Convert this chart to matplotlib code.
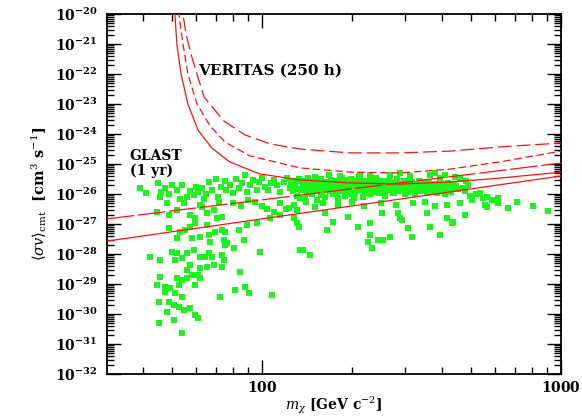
import matplotlib
matplotlib.use("Agg")
import numpy as np
import matplotlib.pyplot as plt
from matplotlib.ticker import FixedLocator, NullFormatter, FixedFormatter

plt.rcParams['mathtext.fontset'] = 'dejavuserif'

# ---------------- data (mass in GeV, log10 <sigma v> in cm^3 s^-1) ----------------
# VERITAS (250 h) sensitivity curves
ver_solid_m = [50.6, 51.1, 51.9, 53.6, 56.5, 61.1, 68.0, 78.0, 98.0, 134, 197, 289, 425, 625, 1000]
ver_solid_e = [-19.5, -20.0, -21.0, -22.0, -23.0, -23.87, -24.47, -24.93, -25.33, -25.53, -25.63, -25.67, -25.6, -25.47, -25.27]

ver_dash_m = [52.2, 52.7, 54.4, 56.5, 60.6, 67.0, 75.2, 91.1, 134, 197, 289, 425, 625, 1000]
ver_dash_e = [-19.5, -20.0, -21.0, -22.0, -23.0, -23.73, -24.27, -24.73, -25.13, -25.27, -25.3, -25.17, -24.93, -24.57]

ver_long_m = [53.8, 54.4, 55.7, 57.8, 64.0, 74.6, 87.7, 106.4, 134, 197, 289, 425, 625, 1000]
ver_long_e = [-19.5, -20.0, -20.67, -21.33, -22.77, -23.57, -24.03, -24.33, -24.5, -24.63, -24.63, -24.57, -24.43, -24.3]

# GLAST (1 yr) sensitivity lines
glast_m = [30.3, 1000]
glast_upper_e = [-26.83, -24.97]
glast_lower_e = [-27.57, -25.4]

# model points (mass, log10 sigma v)
left_band = [
    (39, -25.8), (41, -25.95), (45, -25.63), (46, -25.93), (47.5, -25.8), (49, -26.0), (50, -25.7),
    (52, -25.87), (53, -26.15), (54, -25.7), (56, -26.1), (57.5, -25.9), (59, -26.03), (60, -25.75),
    (61, -25.93), (63, -25.8), (64, -26.15), (65, -26.0), (66.5, -25.6), (68, -25.87), (70, -25.5),
    (71.5, -26.1), (73, -25.77), (75, -25.57), (76, -25.87), (78, -25.7), (80, -25.97), (82, -25.5),
    (84, -25.8), (86, -25.63), (88, -25.37), (89, -25.93), (91, -25.7), (93, -25.53), (96, -25.87),
    (98, -25.6), (100, -25.47), (102, -25.77), (105, -25.87), (107, -25.63), (110, -25.53),
    (112, -25.7), (115, -25.93), (118, -25.6), (121, -25.47), (124, -25.8),
    (55, -26.3), (62, -26.35), (72, -26.25), (80, -26.3), (90, -26.2), (85, -26.4), (45.6, -26.1),
]
dense_band = [
    (125, -25.6), (127, -25.9), (129, -25.75), (131, -26.05), (133, -25.5), (135, -25.85), (137, -25.65),
    (139, -26.15), (141, -25.95), (143, -25.45), (145, -25.75), (147, -26.0), (149, -25.6), (151, -25.85),
    (153, -26.2), (155, -25.7), (157, -25.5), (159, -25.95), (161, -25.8), (163, -26.1), (165, -25.6),
    (167, -25.35), (169, -25.9), (171, -25.7), (173, -26.0), (175, -25.55), (177, -25.8), (179, -26.15),
    (181, -25.65), (183, -25.9), (185, -25.45), (187, -25.75), (189, -26.05), (191, -25.6), (193, -25.85),
    (195, -25.7), (197, -26.0), (199, -25.5), (202, -25.8), (205, -25.95), (208, -25.65), (211, -25.4),
    (214, -25.85), (217, -26.1), (220, -25.7), (223, -25.55), (226, -25.9), (229, -25.75), (232, -26.0),
    (235, -25.6), (238, -25.85), (241, -25.45), (244, -25.7), (247, -25.95), (250, -25.8), (254, -25.55),
    (258, -26.05), (262, -25.7), (266, -25.85), (270, -25.6), (274, -25.95), (278, -25.75), (282, -25.5),
    (286, -25.9), (290, -25.65), (295, -25.8), (300, -26.0), (305, -25.7), (310, -25.55), (315, -25.85),
    (320, -25.75), (326, -26.0), (332, -25.65), (338, -25.9), (344, -25.8), (350, -25.6), (357, -25.95),
    (364, -25.75), (371, -25.85), (378, -25.65), (386, -25.95), (394, -25.8), (402, -25.7), (410, -26.0),
    (420, -25.85), (430, -25.75),
    (126, -25.78), (130, -25.58), (134, -26.12), (138, -25.82), (142, -25.68), (146, -25.92), (150, -25.42),
    (154, -25.78), (158, -26.02), (162, -25.62), (166, -25.88), (170, -25.52), (174, -25.78), (178, -25.98),
    (182, -25.72), (186, -25.62), (190, -25.92), (194, -25.52), (198, -25.78), (203, -26.12), (207, -25.72),
    (212, -25.58), (216, -25.82), (221, -25.98), (225, -25.68), (230, -25.48), (236, -25.78), (242, -25.92),
    (248, -25.62), (253, -25.78), (259, -25.88), (265, -25.58), (271, -25.78), (277, -25.98), (284, -25.68),
    (292, -25.88), (299, -25.58), (307, -25.92), (316, -25.68), (324, -25.82), (334, -25.58), (342, -25.72),
    (352, -25.88), (362, -25.62), (374, -25.92), (384, -25.72), (396, -25.62), (408, -25.82), (418, -25.62),
    (428, -25.92), (440, -25.68), (452, -25.82),
    (128, -25.68), (132, -25.82), (136, -25.55), (140, -25.72), (144, -25.88), (148, -25.66), (152, -25.6),
    (156, -25.9), (160, -25.68), (164, -25.78), (168, -25.62), (172, -25.86), (176, -25.66), (180, -25.84),
    (184, -25.58), (188, -25.68), (192, -25.76), (196, -25.88), (200, -25.64), (204, -25.56), (209, -25.84),
    (214, -25.7), (219, -25.6), (224, -25.82), (228, -25.62), (233, -25.88), (239, -25.7), (245, -25.58),
    (251, -25.7), (256, -25.88), (263, -25.64), (268, -25.72), (275, -25.84), (281, -25.66), (288, -25.76),
    (296, -25.7), (303, -25.84), (311, -25.66), (318, -25.6), (328, -25.78), (337, -25.7), (347, -25.66),
    (356, -25.76), (367, -25.7), (380, -25.8), (390, -25.7), (400, -25.9), (414, -25.72), (424, -25.66),
    (436, -25.82), (446, -25.74), (470, -25.8), (490, -25.7),
    (168, -25.37), (182, -25.4), (213, -25.37), (230, -25.35), (268, -25.37), (290, -25.3), (312, -25.4),
    (365, -25.37), (379, -25.3), (395, -25.45), (409, -25.37), (442, -25.43), (460, -25.5), (480, -25.55),
    (140, -26.25), (160, -26.3), (180, -26.35), (200, -26.25), (220, -26.4), (250, -26.3), (280, -26.35),
    (320, -26.3), (350, -26.25), (380, -26.4), (115, -26.3), (120, -26.5), (128, -26.35), (110, -26.6),
    (100, -26.4), (95, -26.25), (104, -26.5),
]
right_scatter = [
    (131, -26.53), (128, -26.8), (150, -26.43), (162, -26.63), (165, -27.2), (173, -26.93), (194, -26.77),
    (209, -27.1), (230, -26.97), (230, -27.37), (226, -27.6), (244, -27.53), (233, -27.8), (137, -27.87),
    (145, -28.03), (252, -26.63), (285, -26.63), (294, -26.87), (307, -27.13), (356, -26.63), (365, -27.1),
    (394, -27.37), (415, -26.8), (434, -26.93), (477, -26.7), (415, -26.37), (459, -26.3), (504, -26.2),
    (536, -25.97), (557, -26.37), (566, -26.1), (548, -26.13), (588, -26.2), (616, -26.13), (616, -26.3),
    (566, -26.43), (665, -26.47), (713, -26.27), (805, -26.4), (903, -26.57), (431, -26.97), (317, -27.43),
    (268, -27.43), (254, -27.53), (289, -26.8), (477, -25.9), (496, -26.05), (520, -26.0),
]
lower_spray = [
    (44.5, -26.6), (48.9, -26.7), (51.9, -26.53), (57.2, -26.7), (59.9, -26.8), (63.0, -26.43),
    (65.6, -26.63), (69.1, -26.53), (70.7, -26.8), (73.5, -26.77), (65.6, -27.03), (59.9, -26.97),
    (57.4, -27.1), (55.3, -27.2), (51.9, -27.47), (53.2, -27.27), (58.5, -27.47), (61.9, -27.43),
    (66.6, -27.37), (69.6, -27.27), (73.5, -27.2), (74.6, -27.53), (76.5, -27.63), (67.0, -27.6),
    (48.9, -27.13), (50.0, -27.93), (51.9, -27.97), (54.0, -28.13), (56.3, -27.97), (59.4, -27.87),
    (61.9, -28.1), (64.5, -28.1), (68.0, -28.1), (73.5, -28.03), (74.6, -28.2), (42.2, -28.1),
    (45.6, -28.2), (51.1, -28.2), (57.2, -28.37), (56.3, -28.53), (58.5, -28.7), (61.9, -28.47),
    (65.6, -28.43), (69.1, -28.37), (73.5, -28.43), (61.0, -28.7), (62.0, -28.8), (59.9, -29.03),
    (56.3, -28.8), (54.0, -28.87), (51.9, -28.8), (45.6, -28.77), (44.5, -29.03), (47.4, -29.1),
    (49.2, -29.13), (52.7, -29.03), (51.1, -29.3), (54.0, -29.43), (47.4, -29.27), (45.2, -29.6),
    (48.9, -29.6), (50.8, -29.7), (52.7, -29.77), (54.9, -29.87), (57.4, -29.8), (59.9, -30.03),
    (48.1, -29.93), (61.0, -30.13), (50.8, -30.2), (45.2, -30.3), (54.0, -30.63), (84.4, -28.6),
    (81.2, -29.2), (87.8, -29.1), (90.4, -29.3), (72.3, -29.43), (98.4, -27.93), (108.0, -29.37),
    (87.1, -27.53), (80.6, -27.8), (75.2, -27.7), (75.2, -27.27), (83.8, -27.2), (89.0, -27.03),
    (96.2, -26.97), (106.3, -26.8), (114.8, -26.7), (123.1, -26.47), (131.1, -26.97), (133.2, -27.1),
    (134, -27.87), (66.6, -27.97), (48.1, -26.3),
]

# ---------------- figure ----------------
fig = plt.figure(figsize=(5.82, 4.17), dpi=100)
ax = fig.add_axes([107/582, 1 - 374/417, 454/582, 360/417])
ax.set_xscale('log')
ax.set_yscale('log')
ax.set_xlim(30.3, 1000)
ax.set_ylim(1e-32, 1e-20)

green = '#1cf51c'
for pts in (left_band, dense_band, right_scatter, lower_spray):
    m = np.array([p[0] for p in pts])
    e = np.array([p[1] for p in pts])
    ax.scatter(m, 10.0 ** e, marker='s', s=17, color=green, linewidths=0, zorder=2)

red = '#ff1010'
lw = 0.9
ax.plot(ver_solid_m, 10.0 ** np.array(ver_solid_e), color=red, lw=lw, zorder=3)
ax.plot(ver_dash_m, 10.0 ** np.array(ver_dash_e), color=red, lw=lw, ls=(0, (6, 3)), zorder=3)
ax.plot(ver_long_m, 10.0 ** np.array(ver_long_e), color=red, lw=lw, ls=(0, (11, 4)), zorder=3)
ax.plot(glast_m, 10.0 ** np.array(glast_upper_e), color=red, lw=lw, ls=(0, (22, 3)), zorder=3)
ax.plot(glast_m, 10.0 ** np.array(glast_lower_e), color=red, lw=lw, zorder=3)

ax.text(0.2, 0.842, 'VERITAS (250 h)', transform=ax.transAxes, family='DejaVu Serif',
        weight='bold', size=11, va='center', ha='left')
ax.text(0.05, 0.585, 'GLAST\n(1 yr)', transform=ax.transAxes, family='DejaVu Serif',
        weight='bold', size=10, va='center', ha='left', linespacing=1.1)

# ticks
ydec = list(range(-32, -19))
ax.yaxis.set_major_locator(FixedLocator([10.0 ** d for d in ydec]))
ax.yaxis.set_major_formatter(FixedFormatter([r'$\mathbf{10^{%d}}$' % d for d in ydec]))
yminor = [k * 10.0 ** d for d in ydec[:-1] for k in range(2, 10)]
ax.yaxis.set_minor_locator(FixedLocator(yminor))
ax.yaxis.set_minor_formatter(NullFormatter())

ax.xaxis.set_major_locator(FixedLocator([100, 1000]))
ax.xaxis.set_major_formatter(FixedFormatter([r'$\mathbf{100}$', r'$\mathbf{1000}$']))
xminor = [40, 50, 60, 70, 80, 90, 200, 300, 400, 500, 600, 700, 800, 900]
ax.xaxis.set_minor_locator(FixedLocator(xminor))
ax.xaxis.set_minor_formatter(NullFormatter())

ax.tick_params(which='both', direction='in', top=True, right=True, width=1.0, color='black')
ax.tick_params(which='major', length=10, labelsize=10)
ax.tick_params(which='minor', length=5)
ax.tick_params(axis='y', which='major', pad=7)
ax.tick_params(axis='x', which='major', pad=4)
for s in ax.spines.values():
    s.set_linewidth(1.3)

ax.set_xlabel(r'$m_\chi$ [GeV c$^{-2}$]', fontsize=10, fontweight='bold', family='DejaVu Serif')
ax.xaxis.set_label_coords(0.5, -0.058)
ax.set_ylabel(r'$\langle\sigma v\rangle_{\rm cmt}$  [cm$^3$ s$^{-1}$]', fontsize=10.5, fontweight='bold',
              family='DejaVu Serif', labelpad=4)

fig.savefig('out.png', dpi=100)
